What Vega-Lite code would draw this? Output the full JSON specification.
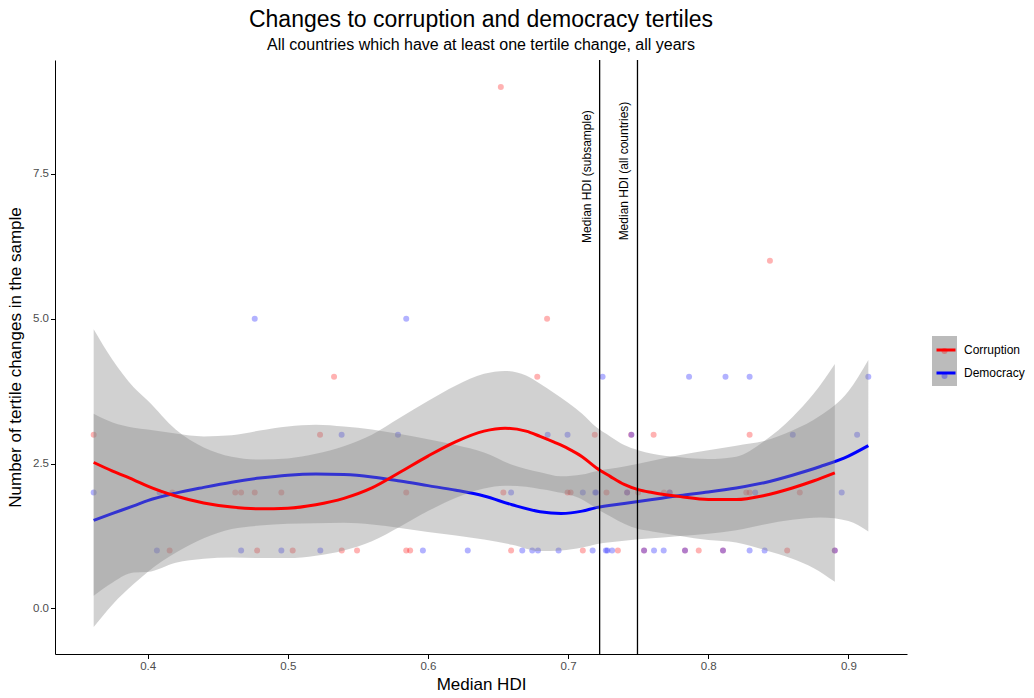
{
  "$schema": "https://vega.github.io/schema/vega-lite/v6.json",
  "width": 852,
  "height": 594,
  "autosize": {"type": "none"},
  "padding": {"left": 55, "top": 60, "right": 127, "bottom": 44},
  "background": "white",
  "title": {
    "text": "Changes to corruption and democracy tertiles",
    "subtitle": "All countries which have at least one tertile change, all years",
    "anchor": "middle",
    "frame": "group",
    "font": "Liberation Sans",
    "fontSize": 23,
    "fontWeight": "normal",
    "color": "black",
    "subtitleFont": "Liberation Sans",
    "subtitleFontSize": 16,
    "subtitleColor": "black",
    "subtitlePadding": 5,
    "offset": 6
  },
  "config": {
    "view": {"stroke": null},
    "font": "Liberation Sans",
    "axis": {
      "grid": false,
      "domainColor": "black",
      "domainWidth": 1,
      "tickColor": "black",
      "tickWidth": 1,
      "tickSize": 4.5,
      "labelColor": "#4d4d4d",
      "labelFontSize": 11.5,
      "labelFont": "Liberation Sans",
      "titleFont": "Liberation Sans",
      "titleFontWeight": "normal",
      "titleColor": "black",
      "titleFontSize": 17,
      "labelPadding": 2
    },
    "legend": {"labelFont": "Liberation Sans"}
  },
  "datasets": {
    "fits": [
      {"series": "Corruption", "hdi": 0.3615, "fit": 2.52, "lo": 0.22, "hi": 4.82},
      {"series": "Corruption", "hdi": 0.375, "fit": 2.37, "lo": 0.45, "hi": 4.29},
      {"series": "Corruption", "hdi": 0.39, "fit": 2.22, "lo": 0.62, "hi": 3.82},
      {"series": "Corruption", "hdi": 0.40, "fit": 2.11, "lo": 0.63, "hi": 3.59},
      {"series": "Corruption", "hdi": 0.42, "fit": 1.94, "lo": 0.79, "hi": 3.09},
      {"series": "Corruption", "hdi": 0.44, "fit": 1.82, "lo": 0.86, "hi": 2.78},
      {"series": "Corruption", "hdi": 0.46, "fit": 1.75, "lo": 0.88, "hi": 2.62},
      {"series": "Corruption", "hdi": 0.48, "fit": 1.72, "lo": 0.87, "hi": 2.57},
      {"series": "Corruption", "hdi": 0.50, "fit": 1.73, "lo": 0.87, "hi": 2.59},
      {"series": "Corruption", "hdi": 0.52, "fit": 1.79, "lo": 0.91, "hi": 2.67},
      {"series": "Corruption", "hdi": 0.54, "fit": 1.90, "lo": 1.00, "hi": 2.80},
      {"series": "Corruption", "hdi": 0.56, "fit": 2.08, "lo": 1.16, "hi": 3.00},
      {"series": "Corruption", "hdi": 0.58, "fit": 2.35, "lo": 1.41, "hi": 3.29},
      {"series": "Corruption", "hdi": 0.60, "fit": 2.63, "lo": 1.68, "hi": 3.58},
      {"series": "Corruption", "hdi": 0.62, "fit": 2.88, "lo": 1.91, "hi": 3.85},
      {"series": "Corruption", "hdi": 0.64, "fit": 3.06, "lo": 2.07, "hi": 4.05},
      {"series": "Corruption", "hdi": 0.655, "fit": 3.11, "lo": 2.12, "hi": 4.10},
      {"series": "Corruption", "hdi": 0.67, "fit": 3.06, "lo": 2.10, "hi": 4.02},
      {"series": "Corruption", "hdi": 0.68, "fit": 2.97, "lo": 2.06, "hi": 3.88},
      {"series": "Corruption", "hdi": 0.69, "fit": 2.87, "lo": 2.02, "hi": 3.72},
      {"series": "Corruption", "hdi": 0.70, "fit": 2.76, "lo": 1.97, "hi": 3.55},
      {"series": "Corruption", "hdi": 0.71, "fit": 2.62, "lo": 1.88, "hi": 3.36},
      {"series": "Corruption", "hdi": 0.72, "fit": 2.43, "lo": 1.73, "hi": 3.13},
      {"series": "Corruption", "hdi": 0.73, "fit": 2.28, "lo": 1.59, "hi": 2.97},
      {"series": "Corruption", "hdi": 0.74, "fit": 2.14, "lo": 1.46, "hi": 2.82},
      {"series": "Corruption", "hdi": 0.75, "fit": 2.05, "lo": 1.37, "hi": 2.73},
      {"series": "Corruption", "hdi": 0.76, "fit": 2.00, "lo": 1.33, "hi": 2.67},
      {"series": "Corruption", "hdi": 0.78, "fit": 1.93, "lo": 1.25, "hi": 2.61},
      {"series": "Corruption", "hdi": 0.80, "fit": 1.88, "lo": 1.18, "hi": 2.58},
      {"series": "Corruption", "hdi": 0.82, "fit": 1.88, "lo": 1.14, "hi": 2.62},
      {"series": "Corruption", "hdi": 0.84, "fit": 1.95, "lo": 1.01, "hi": 2.89},
      {"series": "Corruption", "hdi": 0.86, "fit": 2.08, "lo": 0.86, "hi": 3.30},
      {"series": "Corruption", "hdi": 0.875, "fit": 2.20, "lo": 0.70, "hi": 3.70},
      {"series": "Corruption", "hdi": 0.8903, "fit": 2.34, "lo": 0.46, "hi": 4.22},
      {"series": "Democracy", "hdi": 0.3615, "fit": 1.52, "lo": -0.32, "hi": 3.36},
      {"series": "Democracy", "hdi": 0.375, "fit": 1.64, "lo": 0.07, "hi": 3.21},
      {"series": "Democracy", "hdi": 0.39, "fit": 1.77, "lo": 0.42, "hi": 3.12},
      {"series": "Democracy", "hdi": 0.40, "fit": 1.86, "lo": 0.63, "hi": 3.09},
      {"series": "Democracy", "hdi": 0.42, "fit": 1.99, "lo": 0.96, "hi": 3.02},
      {"series": "Democracy", "hdi": 0.44, "fit": 2.09, "lo": 1.21, "hi": 2.97},
      {"series": "Democracy", "hdi": 0.46, "fit": 2.18, "lo": 1.37, "hi": 2.99},
      {"series": "Democracy", "hdi": 0.48, "fit": 2.25, "lo": 1.43, "hi": 3.07},
      {"series": "Democracy", "hdi": 0.50, "fit": 2.30, "lo": 1.46, "hi": 3.14},
      {"series": "Democracy", "hdi": 0.52, "fit": 2.32, "lo": 1.47, "hi": 3.17},
      {"series": "Democracy", "hdi": 0.54, "fit": 2.31, "lo": 1.48, "hi": 3.14},
      {"series": "Democracy", "hdi": 0.56, "fit": 2.27, "lo": 1.45, "hi": 3.09},
      {"series": "Democracy", "hdi": 0.58, "fit": 2.20, "lo": 1.39, "hi": 3.01},
      {"series": "Democracy", "hdi": 0.60, "fit": 2.12, "lo": 1.32, "hi": 2.92},
      {"series": "Democracy", "hdi": 0.62, "fit": 2.04, "lo": 1.26, "hi": 2.82},
      {"series": "Democracy", "hdi": 0.64, "fit": 1.94, "lo": 1.19, "hi": 2.69},
      {"series": "Democracy", "hdi": 0.66, "fit": 1.79, "lo": 1.10, "hi": 2.48},
      {"series": "Democracy", "hdi": 0.68, "fit": 1.67, "lo": 0.99, "hi": 2.35},
      {"series": "Democracy", "hdi": 0.695, "fit": 1.64, "lo": 1.00, "hi": 2.28},
      {"series": "Democracy", "hdi": 0.71, "fit": 1.68, "lo": 1.05, "hi": 2.31},
      {"series": "Democracy", "hdi": 0.72, "fit": 1.74, "lo": 1.11, "hi": 2.37},
      {"series": "Democracy", "hdi": 0.74, "fit": 1.81, "lo": 1.17, "hi": 2.45},
      {"series": "Democracy", "hdi": 0.76, "fit": 1.88, "lo": 1.21, "hi": 2.55},
      {"series": "Democracy", "hdi": 0.78, "fit": 1.95, "lo": 1.25, "hi": 2.65},
      {"series": "Democracy", "hdi": 0.80, "fit": 2.01, "lo": 1.29, "hi": 2.73},
      {"series": "Democracy", "hdi": 0.82, "fit": 2.08, "lo": 1.35, "hi": 2.81},
      {"series": "Democracy", "hdi": 0.84, "fit": 2.17, "lo": 1.45, "hi": 2.89},
      {"series": "Democracy", "hdi": 0.86, "fit": 2.30, "lo": 1.53, "hi": 3.07},
      {"series": "Democracy", "hdi": 0.88, "fit": 2.45, "lo": 1.57, "hi": 3.33},
      {"series": "Democracy", "hdi": 0.90, "fit": 2.63, "lo": 1.51, "hi": 3.75},
      {"series": "Democracy", "hdi": 0.9142, "fit": 2.81, "lo": 1.33, "hi": 4.29}
    ],
    "countries": [
      {"series": "Corruption", "hdi": 0.652, "changes": 9},
      {"series": "Corruption", "hdi": 0.844, "changes": 6},
      {"series": "Corruption", "hdi": 0.685, "changes": 5},
      {"series": "Corruption", "hdi": 0.533, "changes": 4},
      {"series": "Corruption", "hdi": 0.678, "changes": 4},
      {"series": "Corruption", "hdi": 0.3615, "changes": 3},
      {"series": "Corruption", "hdi": 0.523, "changes": 3},
      {"series": "Corruption", "hdi": 0.719, "changes": 3},
      {"series": "Corruption", "hdi": 0.745, "changes": 3},
      {"series": "Corruption", "hdi": 0.761, "changes": 3},
      {"series": "Corruption", "hdi": 0.8295, "changes": 3},
      {"series": "Corruption", "hdi": 0.4176, "changes": 2},
      {"series": "Corruption", "hdi": 0.4625, "changes": 2},
      {"series": "Corruption", "hdi": 0.4667, "changes": 2},
      {"series": "Corruption", "hdi": 0.4764, "changes": 2},
      {"series": "Corruption", "hdi": 0.4954, "changes": 2},
      {"series": "Corruption", "hdi": 0.5845, "changes": 2},
      {"series": "Corruption", "hdi": 0.6538, "changes": 2},
      {"series": "Corruption", "hdi": 0.6996, "changes": 2},
      {"series": "Corruption", "hdi": 0.7018, "changes": 2},
      {"series": "Corruption", "hdi": 0.7274, "changes": 2},
      {"series": "Corruption", "hdi": 0.7421, "changes": 2},
      {"series": "Corruption", "hdi": 0.75, "changes": 2},
      {"series": "Corruption", "hdi": 0.7684, "changes": 2},
      {"series": "Corruption", "hdi": 0.7725, "changes": 2},
      {"series": "Corruption", "hdi": 0.8271, "changes": 2},
      {"series": "Corruption", "hdi": 0.8295, "changes": 2},
      {"series": "Corruption", "hdi": 0.8653, "changes": 2},
      {"series": "Corruption", "hdi": 0.4157, "changes": 1},
      {"series": "Corruption", "hdi": 0.4781, "changes": 1},
      {"series": "Corruption", "hdi": 0.5035, "changes": 1},
      {"series": "Corruption", "hdi": 0.5385, "changes": 1},
      {"series": "Corruption", "hdi": 0.5494, "changes": 1},
      {"series": "Corruption", "hdi": 0.5845, "changes": 1},
      {"series": "Corruption", "hdi": 0.5873, "changes": 1},
      {"series": "Corruption", "hdi": 0.6593, "changes": 1},
      {"series": "Corruption", "hdi": 0.7105, "changes": 1},
      {"series": "Corruption", "hdi": 0.7355, "changes": 1},
      {"series": "Corruption", "hdi": 0.7542, "changes": 1},
      {"series": "Corruption", "hdi": 0.7834, "changes": 1},
      {"series": "Corruption", "hdi": 0.7932, "changes": 1},
      {"series": "Corruption", "hdi": 0.8105, "changes": 1},
      {"series": "Corruption", "hdi": 0.8563, "changes": 1},
      {"series": "Corruption", "hdi": 0.8903, "changes": 1},
      {"series": "Democracy", "hdi": 0.4764, "changes": 5},
      {"series": "Democracy", "hdi": 0.5845, "changes": 5},
      {"series": "Democracy", "hdi": 0.7246, "changes": 4},
      {"series": "Democracy", "hdi": 0.7863, "changes": 4},
      {"series": "Democracy", "hdi": 0.8123, "changes": 4},
      {"series": "Democracy", "hdi": 0.8295, "changes": 4},
      {"series": "Democracy", "hdi": 0.9142, "changes": 4},
      {"series": "Democracy", "hdi": 0.5384, "changes": 3},
      {"series": "Democracy", "hdi": 0.5786, "changes": 3},
      {"series": "Democracy", "hdi": 0.6854, "changes": 3},
      {"series": "Democracy", "hdi": 0.6996, "changes": 3},
      {"series": "Democracy", "hdi": 0.7452, "changes": 3},
      {"series": "Democracy", "hdi": 0.8603, "changes": 3},
      {"series": "Democracy", "hdi": 0.9062, "changes": 3},
      {"series": "Democracy", "hdi": 0.3615, "changes": 2},
      {"series": "Democracy", "hdi": 0.4085, "changes": 2},
      {"series": "Democracy", "hdi": 0.6593, "changes": 2},
      {"series": "Democracy", "hdi": 0.7105, "changes": 2},
      {"series": "Democracy", "hdi": 0.7193, "changes": 2},
      {"series": "Democracy", "hdi": 0.72, "changes": 2},
      {"series": "Democracy", "hdi": 0.7421, "changes": 2},
      {"series": "Democracy", "hdi": 0.7725, "changes": 2},
      {"series": "Democracy", "hdi": 0.8335, "changes": 2},
      {"series": "Democracy", "hdi": 0.8952, "changes": 2},
      {"series": "Democracy", "hdi": 0.4066, "changes": 1},
      {"series": "Democracy", "hdi": 0.4667, "changes": 1},
      {"series": "Democracy", "hdi": 0.4954, "changes": 1},
      {"series": "Democracy", "hdi": 0.5232, "changes": 1},
      {"series": "Democracy", "hdi": 0.5964, "changes": 1},
      {"series": "Democracy", "hdi": 0.6284, "changes": 1},
      {"series": "Democracy", "hdi": 0.6673, "changes": 1},
      {"series": "Democracy", "hdi": 0.6744, "changes": 1},
      {"series": "Democracy", "hdi": 0.6785, "changes": 1},
      {"series": "Democracy", "hdi": 0.6932, "changes": 1},
      {"series": "Democracy", "hdi": 0.7175, "changes": 1},
      {"series": "Democracy", "hdi": 0.7269, "changes": 1},
      {"series": "Democracy", "hdi": 0.728, "changes": 1},
      {"series": "Democracy", "hdi": 0.7314, "changes": 1},
      {"series": "Democracy", "hdi": 0.7542, "changes": 1},
      {"series": "Democracy", "hdi": 0.7613, "changes": 1},
      {"series": "Democracy", "hdi": 0.7682, "changes": 1},
      {"series": "Democracy", "hdi": 0.7834, "changes": 1},
      {"series": "Democracy", "hdi": 0.8105, "changes": 1},
      {"series": "Democracy", "hdi": 0.8295, "changes": 1},
      {"series": "Democracy", "hdi": 0.8402, "changes": 1},
      {"series": "Democracy", "hdi": 0.8903, "changes": 1}
    ],
    "medians": [
      {"label": "Median HDI (subsample)", "hdi": 0.7225, "ypos": 7.455},
      {"label": "Median HDI (all countries)", "hdi": 0.7495, "ypos": 7.55}
    ]
  },
  "encoding": {
    "x": {
      "field": "hdi",
      "type": "quantitative",
      "scale": {"domain": [0.3339, 0.9418], "nice": false, "zero": false},
      "axis": {"title": "Median HDI", "values": [0.4, 0.5, 0.6, 0.7, 0.8, 0.9], "format": ".1f", "titlePadding": 4}
    }
  },
  "layer": [
    {
      "data": {"name": "countries"},
      "mark": {"type": "circle", "size": 36, "opacity": 0.3},
      "encoding": {
        "y": {
          "field": "changes",
          "type": "quantitative",
          "scale": {"domain": [-0.786, 9.466], "nice": false, "zero": false},
          "axis": {"title": "Number of tertile changes in the sample", "values": [0, 2.5, 5, 7.5], "format": ".1f", "titlePadding": 8}
        },
        "color": {
          "field": "series",
          "type": "nominal",
          "scale": {"domain": ["Corruption", "Democracy"], "range": ["#ff0000", "#0000ff"]},
          "legend": {
            "orient": "none", "legendX": 877, "legendY": 288, "title": null, "zindex": 3,
            "symbolType": "circle", "symbolSize": 36, "symbolOpacity": 0.3, "symbolStrokeWidth": 0, "symbolOffset": 9.5,
            "rowPadding": 19, "padding": 0, "labelExpr": "''", "labelFontSize": 1
          }
        }
      }
    },
    {
      "data": {"name": "fits"},
      "transform": [{"filter": "datum.series === 'Democracy'"}],
      "mark": {"type": "area", "interpolate": "monotone", "fillOpacity": 0.38, "strokeWidth": 0},
      "encoding": {
        "y": {"field": "lo", "type": "quantitative"},
        "y2": {"field": "hi"},
        "fill": {
          "field": "series",
          "type": "nominal",
          "scale": {"domain": ["Democracy", "Corruption"], "range": ["#858585", "#858585"]},
          "legend": {
            "orient": "none", "legendX": 877, "legendY": 276, "title": null, "zindex": 1,
            "symbolType": "square", "symbolSize": 625, "symbolOpacity": 0.56, "symbolStrokeWidth": 0,
            "rowPadding": 0, "padding": 0, "labelExpr": "''", "labelFontSize": 1
          }
        }
      }
    },
    {
      "data": {"name": "fits"},
      "transform": [{"filter": "datum.series === 'Democracy'"}],
      "mark": {"type": "line", "interpolate": "monotone", "strokeWidth": 3},
      "encoding": {
        "y": {"field": "fit", "type": "quantitative"},
        "stroke": {
          "field": "series",
          "type": "nominal",
          "scale": {"range": ["#ff0000", "#0000ff"]},
          "legend": {
            "orient": "none", "legendX": 877, "legendY": 279, "title": null, "zindex": 2,
            "symbolType": "stroke", "symbolSize": 361, "symbolStrokeWidth": 3, "symbolOffset": 3,
            "rowPadding": 6, "padding": 0, "labelFontSize": 12, "labelColor": "black", "labelOffset": 7
          }
        }
      }
    },
    {
      "data": {"name": "fits"},
      "transform": [{"filter": "datum.series === 'Corruption'"}],
      "mark": {"type": "area", "interpolate": "monotone", "fillOpacity": 0.38, "strokeWidth": 0},
      "encoding": {
        "y": {"field": "lo", "type": "quantitative"},
        "y2": {"field": "hi"},
        "fill": {"field": "series", "type": "nominal"}
      }
    },
    {
      "data": {"name": "fits"},
      "transform": [{"filter": "datum.series === 'Corruption'"}],
      "mark": {"type": "line", "interpolate": "monotone", "strokeWidth": 3},
      "encoding": {
        "y": {"field": "fit", "type": "quantitative"},
        "stroke": {"field": "series", "type": "nominal"}
      }
    },
    {
      "data": {"name": "medians"},
      "mark": {"type": "rule", "color": "black", "strokeWidth": 1.3},
      "encoding": {}
    },
    {
      "data": {"name": "medians"},
      "mark": {"type": "text", "angle": 270, "align": "center", "baseline": "middle", "dy": -13, "fontSize": 12, "color": "black", "font": "Liberation Sans"},
      "encoding": {
        "y": {"field": "ypos", "type": "quantitative"},
        "text": {"field": "label"}
      }
    }
  ]
}
